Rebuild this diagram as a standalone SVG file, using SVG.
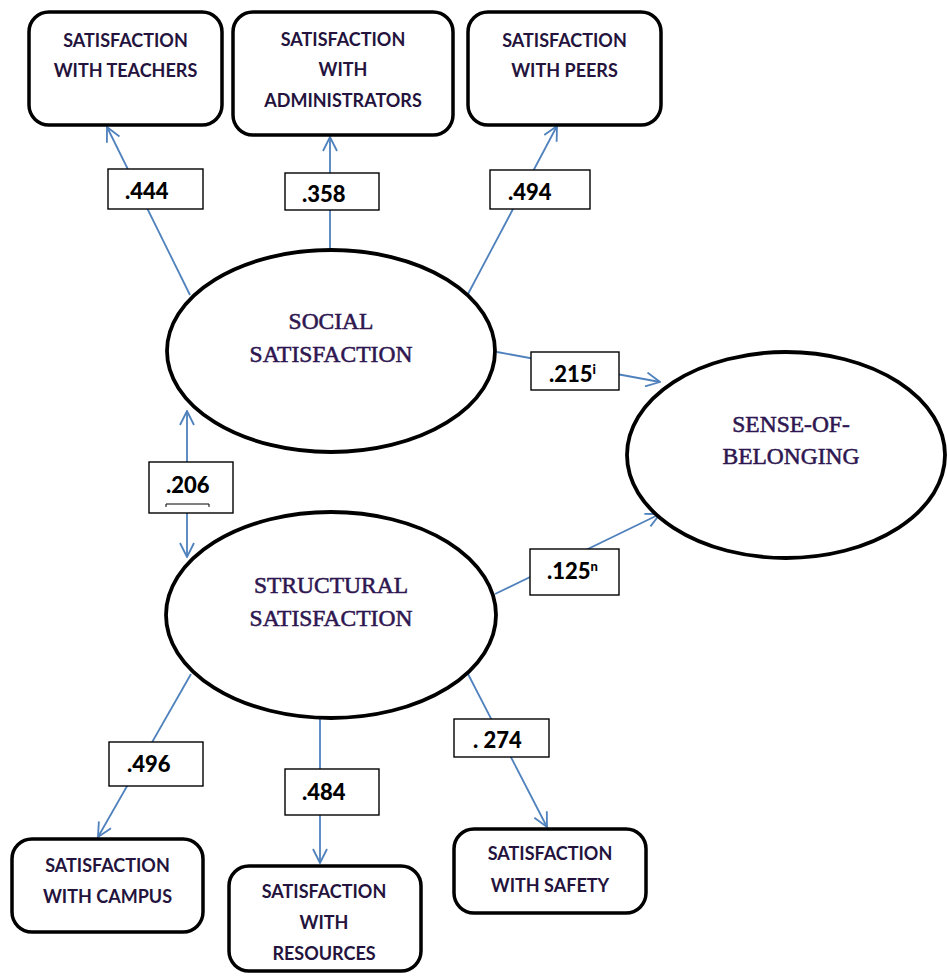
<svg xmlns="http://www.w3.org/2000/svg" width="947" height="976" viewBox="0 0 947 976">
<defs>
<marker id="arr" viewBox="0 0 16 16" refX="15" refY="8" markerWidth="16" markerHeight="16" markerUnits="userSpaceOnUse" orient="auto-start-reverse">
<path d="M1,1 L15,8 L1,15" fill="none" stroke="#4F81BD" stroke-width="1.8"/>
</marker>
</defs>
<style>
.box{fill:#fff;stroke:#000;stroke-width:3.5}
.ell{fill:#fff;stroke:#000;stroke-width:3.8}
.lbl{fill:#fff;stroke:#000;stroke-width:1.4}
.con{fill:none;stroke:#4F81BD;stroke-width:1.8}
.bt{font-family:Lato,"Liberation Sans",sans-serif;font-weight:bold;font-size:18px;fill:#24133D;text-anchor:middle}
.et{font-family:"Liberation Serif","Times New Roman",serif;font-size:23.5px;fill:#2E1650;stroke:#2E1650;stroke-width:0.55;text-anchor:middle}
.lt{font-family:Lato,"Liberation Sans",sans-serif;font-weight:900;font-size:22px;fill:#000}
.sup{font-size:13px}
</style>
<rect width="947" height="976" fill="#fff"/>

<g id="connectors">
<line class="con" x1="190" y1="295" x2="107" y2="127" marker-end="url(#arr)"/>
<line class="con" x1="330" y1="250" x2="330" y2="137" marker-end="url(#arr)"/>
<line class="con" x1="468" y1="294" x2="557" y2="126" marker-end="url(#arr)"/>
<line class="con" x1="497" y1="352" x2="660" y2="382" marker-end="url(#arr)"/>
<line class="con" x1="495" y1="594" x2="660" y2="514" marker-end="url(#arr)"/>
<line class="con" x1="187" y1="411" x2="187" y2="557" marker-start="url(#arr)" marker-end="url(#arr)"/>
<line class="con" x1="191" y1="674" x2="98" y2="837" marker-end="url(#arr)"/>
<line class="con" x1="320" y1="717" x2="320" y2="863" marker-end="url(#arr)"/>
<line class="con" x1="468" y1="674" x2="547" y2="827" marker-end="url(#arr)"/>
</g>

<g id="teachers">
<rect class="box" x="29" y="12" width="193" height="113" rx="20"/>
<text class="bt" x="125.5" y="47">SATISFACTION</text>
<text class="bt" x="125.5" y="77">WITH TEACHERS</text>
</g>
<g id="administrators">
<rect class="box" x="233" y="12" width="220" height="123" rx="20"/>
<text class="bt" x="343" y="46">SATISFACTION</text>
<text class="bt" x="343" y="76">WITH</text>
<text class="bt" x="343" y="107">ADMINISTRATORS</text>
</g>
<g id="peers">
<rect class="box" x="468" y="12" width="193" height="113" rx="20"/>
<text class="bt" x="564.5" y="47">SATISFACTION</text>
<text class="bt" x="564.5" y="77">WITH PEERS</text>
</g>

<g id="social">
<ellipse class="ell" cx="331" cy="351" rx="164" ry="101"/>
<text class="et" x="331" y="329">SOCIAL</text>
<text class="et" x="331" y="362">SATISFACTION</text>
</g>
<g id="structural">
<ellipse class="ell" cx="331" cy="615" rx="165" ry="103"/>
<text class="et" x="331" y="593">STRUCTURAL</text>
<text class="et" x="331" y="626">SATISFACTION</text>
</g>
<g id="belonging">
<ellipse class="ell" cx="786" cy="455" rx="159" ry="103"/>
<text class="et" x="791" y="432">SENSE-OF-</text>
<text class="et" x="791" y="464">BELONGING</text>
</g>

<g id="campus">
<rect class="box" x="12" y="839" width="191" height="93" rx="20"/>
<text class="bt" x="107.5" y="872">SATISFACTION</text>
<text class="bt" x="107.5" y="903">WITH CAMPUS</text>
</g>
<g id="resources">
<rect class="box" x="229" y="866" width="192" height="105" rx="20"/>
<text class="bt" x="324" y="898">SATISFACTION</text>
<text class="bt" x="324" y="929">WITH</text>
<text class="bt" x="324" y="960">RESOURCES</text>
</g>
<g id="safety">
<rect class="box" x="454" y="829" width="192" height="84" rx="20"/>
<text class="bt" x="550" y="860">SATISFACTION</text>
<text class="bt" x="550" y="892">WITH SAFETY</text>
</g>

<g id="label-444"><rect class="lbl" x="108" y="169" width="95" height="40"/><text class="lt" x="125" y="199">.444</text></g>
<g id="label-358"><rect class="lbl" x="285" y="173" width="94" height="37"/><text class="lt" x="302" y="202">.358</text></g>
<g id="label-494"><rect class="lbl" x="490" y="170" width="100" height="39"/><text class="lt" x="508" y="200">.494</text></g>
<g id="label-215"><rect class="lbl" x="531" y="352" width="88" height="38"/><text class="lt" x="549" y="382">.215<tspan class="sup" dy="-8">i</tspan></text></g>
<g id="label-206"><rect class="lbl" x="149" y="462" width="84" height="51"/><text class="lt" x="166" y="493">.206</text>
<path d="M166,507 V504 H209 V507" fill="none" stroke="#000" stroke-width="1"/></g>
<g id="label-125"><rect class="lbl" x="530" y="549" width="89" height="46"/><text class="lt" x="547" y="579">.125<tspan class="sup" dy="-8">n</tspan></text></g>
<g id="label-496"><rect class="lbl" x="109" y="742" width="94" height="44"/><text class="lt" x="127" y="772">.496</text></g>
<g id="label-484"><rect class="lbl" x="285" y="769" width="94" height="46"/><text class="lt" x="302" y="800">.484</text></g>
<g id="label-274"><rect class="lbl" x="454" y="719" width="95" height="38"/><text class="lt" x="473" y="748">. 274</text></g>
</svg>
